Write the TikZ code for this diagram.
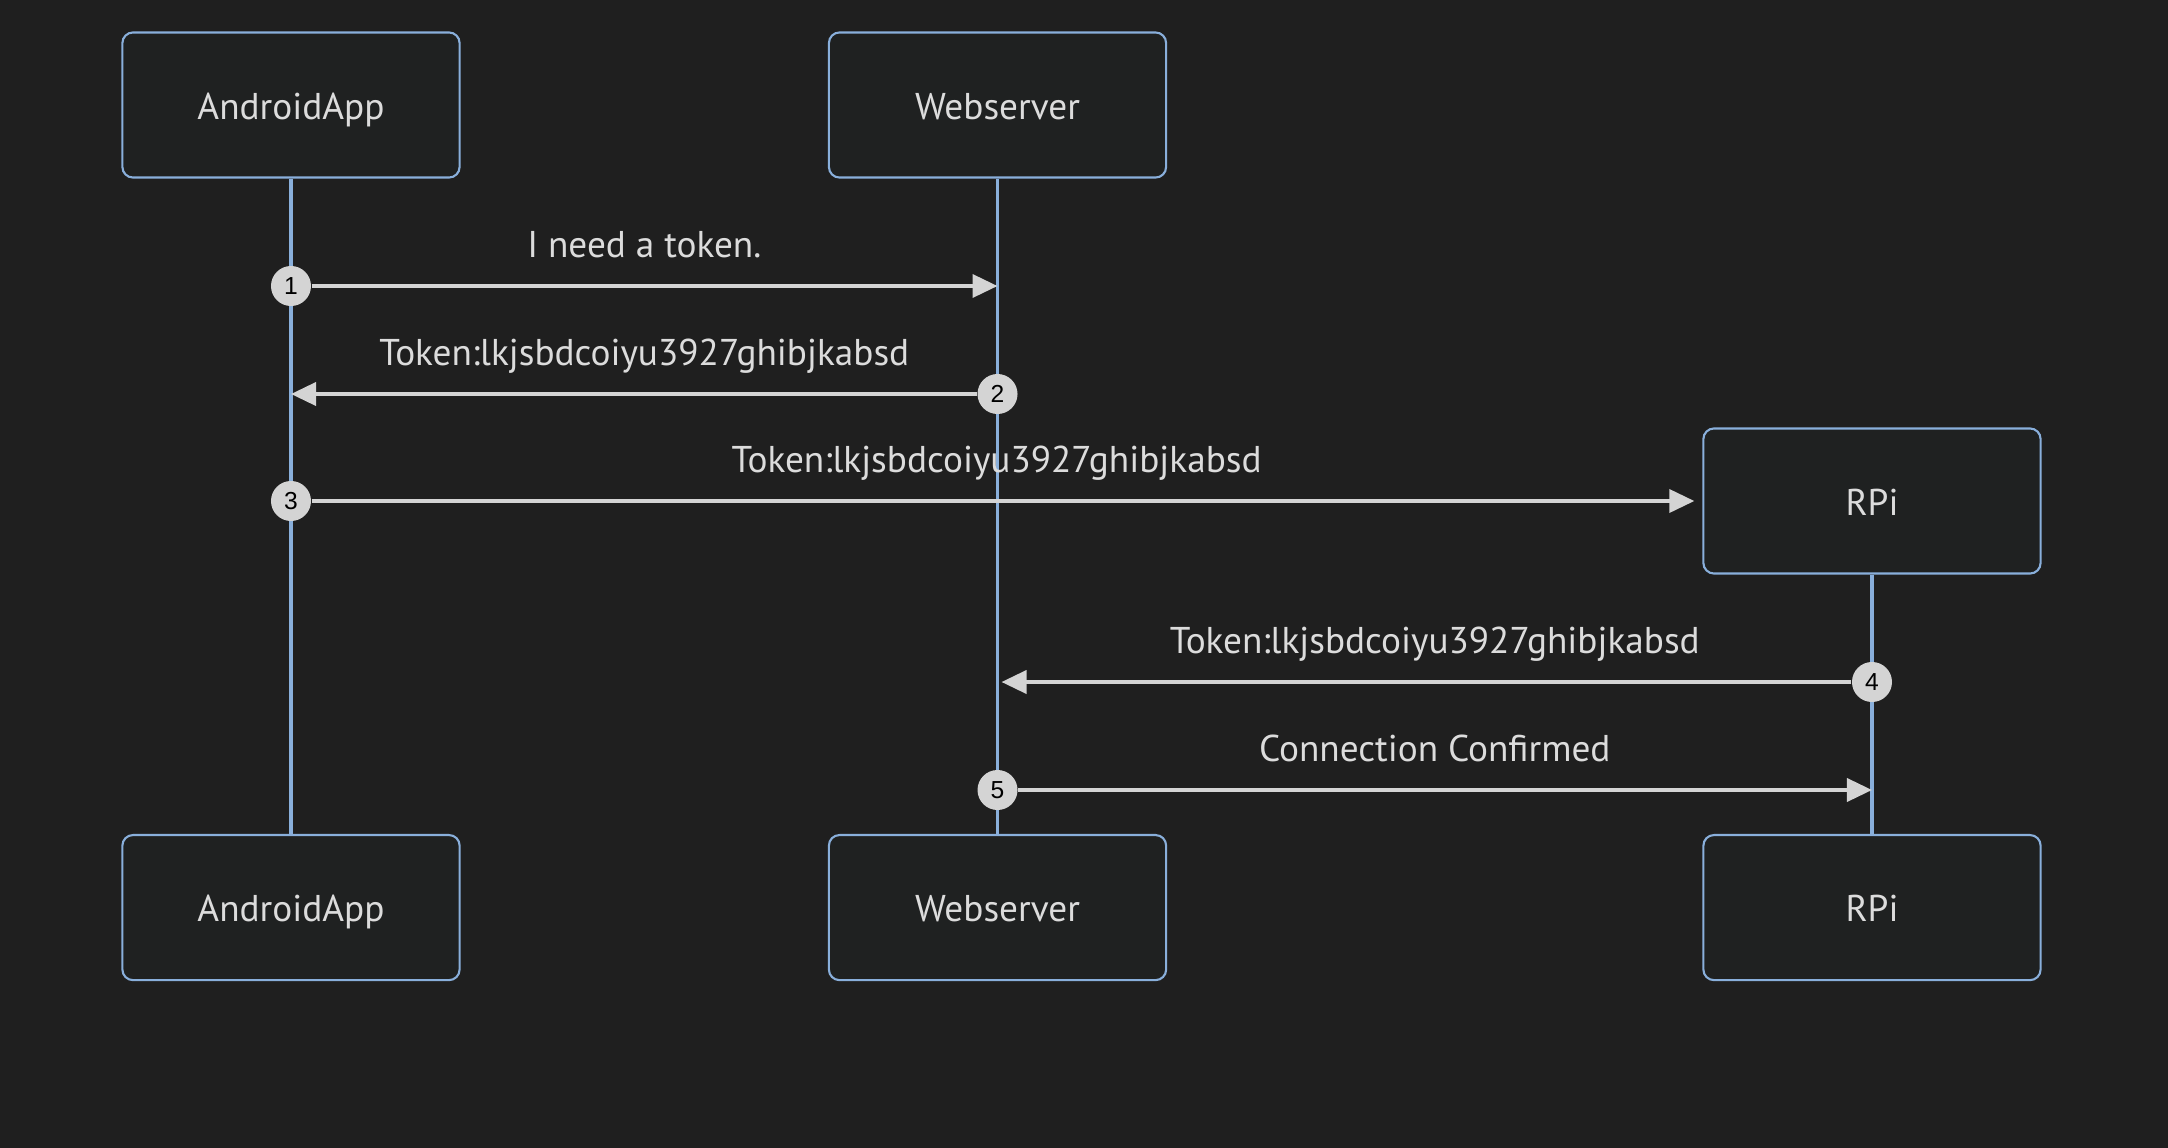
\documentclass[tikz,border=0pt]{standalone}
\usepackage{fontspec}
\setmainfont{PT Sans}
\newfontfamily\seqfont{Liberation Sans}
\usetikzlibrary{arrows.meta, positioning, calc}
\definecolor{bgdark}{HTML}{1F1F1F}
\definecolor{boxfill}{HTML}{1F2121}
\definecolor{lifeblue}{HTML}{89AFDB}
\definecolor{msggray}{HTML}{D4D4D4}
\definecolor{labelgray}{HTML}{DCDCDC}
\tikzset{
  actor/.style={rectangle,rounded corners=3pt,draw=lifeblue,line width=0.6pt,fill=boxfill,text=labelgray,minimum width=3.37cm,minimum height=1.45cm,text height=1.9ex,text depth=0.3ex,font=\fontsize{10.6}{12}\selectfont},
  lifeline/.style={draw=lifeblue,line width=1.1pt},
  seqno/.style={circle,fill=msggray,text=black,inner sep=0pt,minimum size=0.4cm,font=\seqfont\fontsize{7}{7}\selectfont},
  message/.style={draw=msggray,line width=1.05pt,-{Triangle[length=0.25cm,width=0.23cm]}},
  msglabel/.style={text=labelgray,font=\fontsize{10.6}{12}\selectfont,inner sep=0pt,anchor=base,yshift=0.28cm},
}

\begin{document}
\begin{tikzpicture}[x=0.01cm,y=-0.01cm]
	    \fill[bgdark] (0,0) rectangle (2168,1148);
	    \useasboundingbox (0,0) rectangle (2168,1148);
	    \node[actor] (App) at (291,105) {AndroidApp};
	    \node[actor,right=3.67cm of App] (Web) {Webserver};
	    \node[actor] (Pi) at (1872,501) {RPi};
	    \node[actor,below=6.55cm of App] (AppEnd) {AndroidApp};
	    \node[actor,below=6.55cm of Web] (WebEnd) {Webserver};
	    \node[actor] (PiEnd) at (Pi |- AppEnd) {RPi};
	    \draw[lifeline] (App) -- (AppEnd);
	    \draw[lifeline] (Web) -- (WebEnd);
	    \draw[lifeline] (Pi) -- (PiEnd);
	    \node[seqno] (s1) at (App |- 0,286) {1};
	    \node[seqno] (s2) at (Web |- 0,394) {2};
	    \node[seqno] (s3) at (App |- 0,501) {3};
	    \node[seqno] (s4) at (Pi |- 0,682) {4};
	    \node[seqno] (s5) at (Web |- 0,790) {5};
	    \draw[message] (s1) -- (s1 -| Web);
	    \draw[message] (s2) -- (s2 -| App);
	    \draw[message] (s3) -- ([xshift=-0.08cm]Pi.west);
	    \draw[message] (s4) -- ([xshift=0.04cm]s4 -| Web);
	    \draw[message] (s5) -- (s5 -| Pi);
	    \node[msglabel] at ($(s1)!0.5!(s1 -| Web)$) {I need a token.};
	    \node[msglabel] at ($(s2)!0.5!(s2 -| App)$) {Token:lkjsbdcoiyu3927ghibjkabsd};
	    \node[msglabel] at ($(s3)!0.5!(Pi.west)$) {Token:lkjsbdcoiyu3927ghibjkabsd};
	    \node[msglabel] at ($(s4)!0.5!(s4 -| Web)$) {Token:lkjsbdcoiyu3927ghibjkabsd};
	    \node[msglabel] at ($(s5)!0.5!(s5 -| Pi)$) {Connection Confirmed};
	\end{tikzpicture}
\end{document}
